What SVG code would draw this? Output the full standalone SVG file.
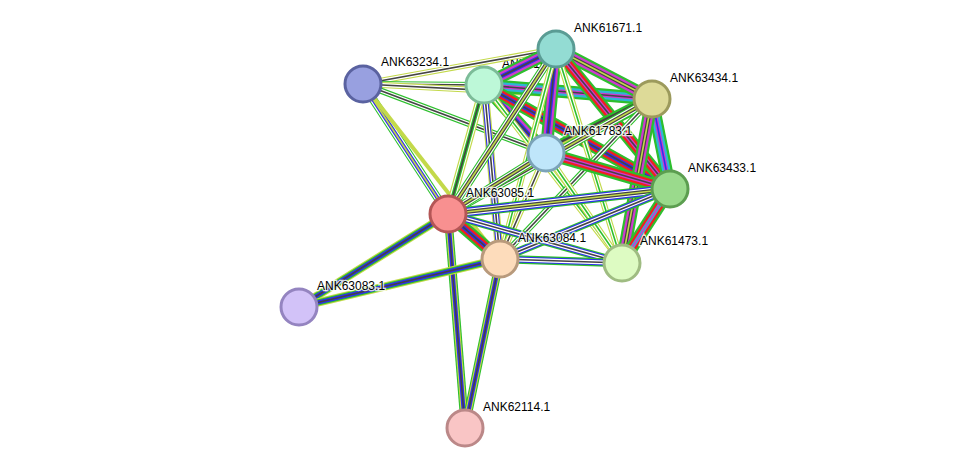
<svg xmlns="http://www.w3.org/2000/svg" width="975" height="474" viewBox="0 0 975 474">
<style>
.n{stroke-width:3}
text{font-family:"Liberation Sans",Arial,sans-serif;font-size:12px;fill:#000;paint-order:stroke;stroke:#fff;stroke-width:2.5px;stroke-opacity:.8}
line{stroke-linecap:butt}
.g{stroke:#2dbf2d}.b{stroke:#2f2fef}.k{stroke:#444}.y{stroke:#c3d94a}.r{stroke:#f02020}.m{stroke:#cf3acf}.c{stroke:#2fb5d6}
.w7{stroke-width:15}.w6{stroke-width:12.8}.w5{stroke-width:10.6}.w4{stroke-width:8.4}.w3{stroke-width:6.2}.w2{stroke-width:4}.w1{stroke-width:1.6}
.s{stroke:#fff}
</style>
<rect width="975" height="474" fill="#fff"/>
<text x="502" y="68">ANK61670.1</text>
<g id="connectors">
<!-- 4 colour: g b k y -->
<g><line x1="363" y1="84" x2="448" y2="214" class="g w4"/><line x1="363" y1="84" x2="448" y2="214" class="s w3"/><line x1="363" y1="84" x2="448" y2="214" class="b w2"/><line x1="363" y1="84" x2="448" y2="214" class="y w1"/></g>
<g><line x1="363" y1="84" x2="556" y2="49" class="y w3"/><line x1="363" y1="84" x2="556" y2="49" class="s w2"/><line x1="363" y1="84" x2="556" y2="49" class="k w1"/></g>
<g><line x1="363" y1="84" x2="484" y2="85" class="g w3"/><line x1="363" y1="84" x2="484" y2="85" class="s w2"/><line x1="363" y1="84" x2="484" y2="85" class="k w1"/></g>
<g><line x1="363" y1="84" x2="652" y2="99" class="y w3"/><line x1="363" y1="84" x2="652" y2="99" class="s w2"/><line x1="363" y1="84" x2="652" y2="99" class="k w1"/></g>
<g><line x1="363" y1="84" x2="546" y2="153" class="g w3"/><line x1="363" y1="84" x2="546" y2="153" class="s w2"/><line x1="363" y1="84" x2="546" y2="153" class="k w1"/></g>
<g><line x1="363" y1="84" x2="500" y2="259" class="y w2"/></g>
<!-- dense cluster edges: 7 colours -->
<g id="full">
<g><line x1="484" y1="85" x2="556" y2="49" class="g w6"/><line x1="484" y1="85" x2="556" y2="49" class="m w4"/><line x1="484" y1="85" x2="556" y2="49" class="b w2"/><line x1="484" y1="85" x2="556" y2="49" class="k w1"/></g>
<g><line x1="484" y1="85" x2="652" y2="99" class="g w6"/><line x1="484" y1="85" x2="652" y2="99" class="c w4"/><line x1="484" y1="85" x2="652" y2="99" class="m w2"/><line x1="484" y1="85" x2="652" y2="99" class="k w1"/></g>
<g><line x1="484" y1="85" x2="546" y2="153" class="g w6"/><line x1="484" y1="85" x2="546" y2="153" class="m w4"/><line x1="484" y1="85" x2="546" y2="153" class="b w2"/><line x1="484" y1="85" x2="546" y2="153" class="k w1"/></g>
<g><line x1="484" y1="85" x2="670" y2="189" class="g w6"/><line x1="484" y1="85" x2="670" y2="189" class="r w4"/><line x1="484" y1="85" x2="670" y2="189" class="b w2"/><line x1="484" y1="85" x2="670" y2="189" class="k w1"/></g>
<g><line x1="484" y1="85" x2="448" y2="214" class="y w4"/><line x1="484" y1="85" x2="448" y2="214" class="s w3"/><line x1="484" y1="85" x2="448" y2="214" class="g w2"/><line x1="484" y1="85" x2="448" y2="214" class="k w1"/></g>
<g><line x1="484" y1="85" x2="500" y2="259" class="y w4"/><line x1="484" y1="85" x2="500" y2="259" class="b w3"/><line x1="484" y1="85" x2="500" y2="259" class="s w2"/><line x1="484" y1="85" x2="500" y2="259" class="k w1"/></g>
<g><line x1="484" y1="85" x2="622" y2="263" class="y w3"/><line x1="484" y1="85" x2="622" y2="263" class="s w2"/><line x1="484" y1="85" x2="622" y2="263" class="g w1"/></g>
<g><line x1="556" y1="49" x2="652" y2="99" class="g w6"/><line x1="556" y1="49" x2="652" y2="99" class="m w4"/><line x1="556" y1="49" x2="652" y2="99" class="k w2"/><line x1="556" y1="49" x2="652" y2="99" class="y w1"/></g>
<g><line x1="556" y1="49" x2="546" y2="153" class="g w6"/><line x1="556" y1="49" x2="546" y2="153" class="m w4"/><line x1="556" y1="49" x2="546" y2="153" class="b w2"/><line x1="556" y1="49" x2="546" y2="153" class="k w1"/></g>
<g><line x1="556" y1="49" x2="670" y2="189" class="g w6"/><line x1="556" y1="49" x2="670" y2="189" class="r w4"/><line x1="556" y1="49" x2="670" y2="189" class="m w2"/><line x1="556" y1="49" x2="670" y2="189" class="k w1"/></g>
<g><line x1="556" y1="49" x2="448" y2="214" class="g w4"/><line x1="556" y1="49" x2="448" y2="214" class="s w3"/><line x1="556" y1="49" x2="448" y2="214" class="k w2"/><line x1="556" y1="49" x2="448" y2="214" class="y w1"/></g>
<g><line x1="556" y1="49" x2="500" y2="259" class="y w3"/><line x1="556" y1="49" x2="500" y2="259" class="s w2"/><line x1="556" y1="49" x2="500" y2="259" class="g w1"/></g>
<g><line x1="556" y1="49" x2="622" y2="263" class="y w3"/><line x1="556" y1="49" x2="622" y2="263" class="s w2"/><line x1="556" y1="49" x2="622" y2="263" class="g w1"/></g>
<g><line x1="652" y1="99" x2="546" y2="153" class="g w6"/><line x1="652" y1="99" x2="546" y2="153" class="k w4"/><line x1="652" y1="99" x2="546" y2="153" class="y w2"/></g>
<g><line x1="652" y1="99" x2="670" y2="189" class="g w6"/><line x1="652" y1="99" x2="670" y2="189" class="c w4"/><line x1="652" y1="99" x2="670" y2="189" class="m w2"/><line x1="652" y1="99" x2="670" y2="189" class="b w1"/></g>
<g><line x1="652" y1="99" x2="448" y2="214" class="g w4"/><line x1="652" y1="99" x2="448" y2="214" class="s w3"/><line x1="652" y1="99" x2="448" y2="214" class="k w2"/><line x1="652" y1="99" x2="448" y2="214" class="y w1"/></g>
<g><line x1="652" y1="99" x2="500" y2="259" class="g w3"/><line x1="652" y1="99" x2="500" y2="259" class="s w2"/><line x1="652" y1="99" x2="500" y2="259" class="k w1"/></g>
<g><line x1="652" y1="99" x2="622" y2="263" class="g w6"/><line x1="652" y1="99" x2="622" y2="263" class="m w4"/><line x1="652" y1="99" x2="622" y2="263" class="k w2"/><line x1="652" y1="99" x2="622" y2="263" class="y w1"/></g>
<g><line x1="546" y1="153" x2="670" y2="189" class="g w6"/><line x1="546" y1="153" x2="670" y2="189" class="r w4"/><line x1="546" y1="153" x2="670" y2="189" class="m w2"/><line x1="546" y1="153" x2="670" y2="189" class="k w1"/></g>
<g><line x1="546" y1="153" x2="448" y2="214" class="g w4"/><line x1="546" y1="153" x2="448" y2="214" class="s w3"/><line x1="546" y1="153" x2="448" y2="214" class="k w2"/><line x1="546" y1="153" x2="448" y2="214" class="y w1"/></g>
<g><line x1="546" y1="153" x2="500" y2="259" class="y w3"/><line x1="546" y1="153" x2="500" y2="259" class="s w2"/><line x1="546" y1="153" x2="500" y2="259" class="k w1"/></g>
<g><line x1="546" y1="153" x2="622" y2="263" class="y w3"/><line x1="546" y1="153" x2="622" y2="263" class="s w2"/><line x1="546" y1="153" x2="622" y2="263" class="g w1"/></g>
<g><line x1="670" y1="189" x2="448" y2="214" class="g w5"/><line x1="670" y1="189" x2="448" y2="214" class="b w4"/><line x1="670" y1="189" x2="448" y2="214" class="s w3"/><line x1="670" y1="189" x2="448" y2="214" class="k w2"/><line x1="670" y1="189" x2="448" y2="214" class="y w1"/></g>
<g><line x1="670" y1="189" x2="500" y2="259" class="g w4"/><line x1="670" y1="189" x2="500" y2="259" class="b w3"/><line x1="670" y1="189" x2="500" y2="259" class="s w2"/><line x1="670" y1="189" x2="500" y2="259" class="k w1"/></g>
<g><line x1="670" y1="189" x2="622" y2="263" class="g w6"/><line x1="670" y1="189" x2="622" y2="263" class="r w4"/><line x1="670" y1="189" x2="622" y2="263" class="c w2"/><line x1="670" y1="189" x2="622" y2="263" class="m w1"/></g>
</g>
<g><line x1="448" y1="214" x2="500" y2="259" class="g w6"/><line x1="448" y1="214" x2="500" y2="259" class="r w4"/><line x1="448" y1="214" x2="500" y2="259" class="b w2"/><line x1="448" y1="214" x2="500" y2="259" class="k w1"/></g>
<g><line x1="448" y1="214" x2="622" y2="263" class="g w4"/><line x1="448" y1="214" x2="622" y2="263" class="b w3"/><line x1="448" y1="214" x2="622" y2="263" class="s w2"/><line x1="448" y1="214" x2="622" y2="263" class="k w1"/></g>
<g><line x1="448" y1="214" x2="299" y2="307" class="y w4"/><line x1="448" y1="214" x2="299" y2="307" class="g w3"/><line x1="448" y1="214" x2="299" y2="307" class="b w2"/><line x1="448" y1="214" x2="299" y2="307" class="k w1"/></g>
<g><line x1="448" y1="214" x2="465" y2="428" class="g w4"/><line x1="448" y1="214" x2="465" y2="428" class="y w3"/><line x1="448" y1="214" x2="465" y2="428" class="b w2"/><line x1="448" y1="214" x2="465" y2="428" class="k w1"/></g>
<g><line x1="500" y1="259" x2="622" y2="263" class="g w4"/><line x1="500" y1="259" x2="622" y2="263" class="b w3"/><line x1="500" y1="259" x2="622" y2="263" class="s w2"/><line x1="500" y1="259" x2="622" y2="263" class="k w1"/></g>
<g><line x1="500" y1="259" x2="299" y2="307" class="y w4"/><line x1="500" y1="259" x2="299" y2="307" class="g w3"/><line x1="500" y1="259" x2="299" y2="307" class="b w2"/><line x1="500" y1="259" x2="299" y2="307" class="k w1"/></g>
<g><line x1="500" y1="259" x2="465" y2="428" class="g w4"/><line x1="500" y1="259" x2="465" y2="428" class="y w3"/><line x1="500" y1="259" x2="465" y2="428" class="b w2"/><line x1="500" y1="259" x2="465" y2="428" class="k w1"/></g>
</g>
<g id="ANK61671.1"><circle cx="556" cy="49" r="18" fill="#93dcd3" stroke="#5a9c94" class="n"/><text x="574" y="32">ANK61671.1</text></g>
<g id="ANK63234.1"><circle cx="363" cy="84" r="18" fill="#98a0e0" stroke="#5a62a0" class="n"/><text x="381" y="66">ANK63234.1</text></g>
<g id="ANK61670.1"><circle cx="484" cy="85" r="18" fill="#bdf8d8" stroke="#7cbc98" class="n"/></g>
<g id="ANK63434.1"><circle cx="652" cy="99" r="18" fill="#ddda98" stroke="#9c9a5c" class="n"/><text x="670" y="82">ANK63434.1</text></g>
<g id="ANK61783.1"><circle cx="546" cy="153" r="18" fill="#bfe6fa" stroke="#7ba3b8" class="n"/><text x="564" y="135">ANK61783.1</text></g>
<g id="ANK63433.1"><circle cx="670" cy="189" r="18" fill="#9ada8c" stroke="#5c9e50" class="n"/><text x="688" y="172">ANK63433.1</text></g>
<g id="ANK63085.1"><circle cx="448" cy="214" r="18" fill="#f89090" stroke="#b45656" class="n"/><text x="466" y="197">ANK63085.1</text></g>
<g id="ANK63084.1"><circle cx="500" cy="259" r="18" fill="#fddcbb" stroke="#b89a7c" class="n"/><text x="518" y="242">ANK63084.1</text></g>
<g id="ANK61473.1"><circle cx="622" cy="263" r="18" fill="#ddfbc2" stroke="#9fbc82" class="n"/><text x="640" y="245">ANK61473.1</text></g>
<g id="ANK63083.1"><circle cx="299" cy="307" r="18" fill="#d2c2f8" stroke="#9484c0" class="n"/><text x="317" y="290">ANK63083.1</text></g>
<g id="ANK62114.1"><circle cx="465" cy="428" r="18" fill="#f9c5c5" stroke="#bb8888" class="n"/><text x="483" y="411">ANK62114.1</text></g>
</svg>
